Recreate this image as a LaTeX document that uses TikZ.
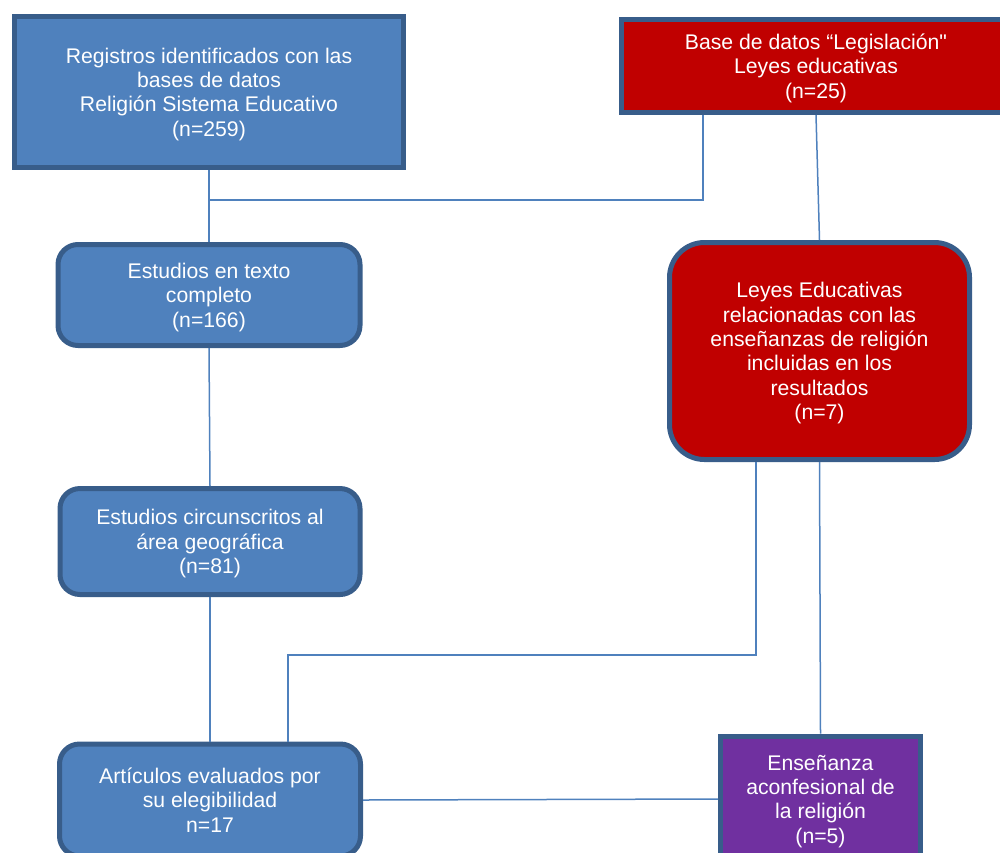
\documentclass[tikz,border=0pt]{standalone}
\usepackage{fontspec}
\setmainfont{Liberation Sans}
\definecolor{boxblue}{HTML}{4F81BD}
\definecolor{edgeblue}{HTML}{385D8A}
\definecolor{boxred}{HTML}{C00000}
\definecolor{boxpurple}{HTML}{7030A0}
\begin{document}
\begin{tikzpicture}[x=0.5pt,y=-0.5pt,
  box/.style={draw=edgeblue, line width=2.5pt, text=white, align=center,
    inner sep=0pt, font=\fontsize{10.6}{12.2}\selectfont, text depth=0pt},
  link/.style={draw=boxblue, line width=0.75pt}]

  \useasboundingbox (0,0) rectangle (1000,852);

  % Boxes, left column
  \node[box, fill=boxblue, minimum width=194.5pt, minimum height=75.5pt]
    (reg) at (209,92) {Registros identificados con las\\bases de datos\\Religión Sistema Educativo\\(n=259)};
  \node[box, fill=boxblue, rounded corners=10pt, minimum width=151pt, minimum height=50.5pt]
    (texto) at (209,295) {Estudios en texto\\completo\\(n=166)};
  \node[box, fill=boxblue, rounded corners=10pt, minimum width=150pt, minimum height=53pt]
    (circ) at (210,541.5) {Estudios circunscritos al\\área geográfica\\(n=81)};
  \node[box, fill=boxblue, rounded corners=10pt, minimum width=150.5pt, minimum height=56pt]
    (art) at (210,800) {Artículos evaluados por\\su elegibilidad\\n=17};

  % Boxes, right column
  \node[box, fill=boxred, minimum width=195pt, minimum height=46.5pt]
    (base) at (816,66) {Base de datos “Legislación\textquotedbl\\Leyes educativas\\(n=25)};
  \node[box, fill=boxred, rounded corners=17.5pt, minimum width=150pt, minimum height=108.5pt]
    (leyes) at (819.5,351) {Leyes Educativas\\relacionadas con las\\enseñanzas de religión\\incluidas en los\\resultados\\(n=7)};
  \node[box, fill=boxpurple, minimum width=100pt, minimum height=63pt]
    (ens) at (820.5,799) {Enseñanza\\aconfesional de\\la religión\\(n=5)};

  % Junction points
  \coordinate (bj) at (703,200);
  \coordinate (lj) at (756,655);
  \coordinate (aj) at (288,655);

  % Connections
  \draw[link] (reg.south) -- (texto.north);
  \draw[link] (bj |- base.south) -- (bj) -- (reg.south |- bj);
  \draw[link] (base.south) -- (leyes.north);
  \draw[link] (texto.south) -- (circ.north);
  \draw[link] (circ.south) -- (art.north);
  \draw[link] (lj |- leyes.south) -- (lj) -- (aj) -- (aj |- art.north);
  \draw[link] (leyes.south) -- (ens.north);
  \draw[link] (art.east) -- (ens.west);

\end{tikzpicture}
\end{document}
